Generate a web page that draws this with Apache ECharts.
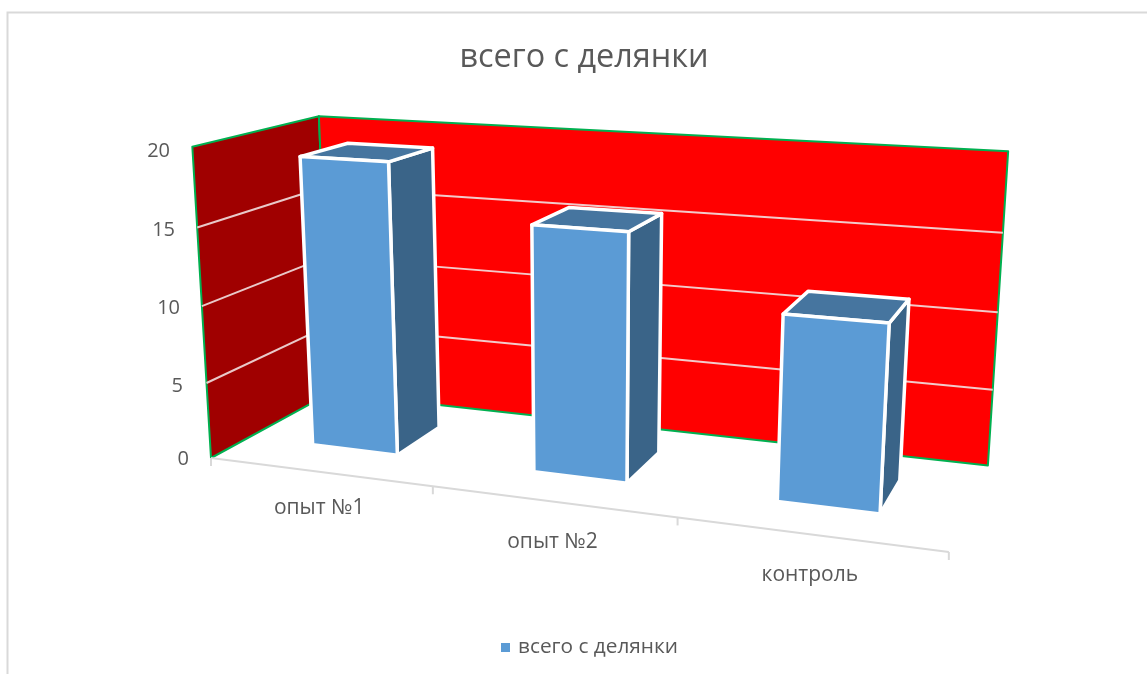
<!DOCTYPE html>
<html><head><meta charset="utf-8">
<style>html,body{margin:0;padding:0;background:#fff}#c{width:1147px;height:674px}</style>
<script src="https://cdn.jsdelivr.net/npm/echarts@6/dist/echarts.min.js"></script>
</head><body><div id="c"></div>
<script>
const categories = ['опыт №1', 'опыт №2', 'контроль'];
const seriesName = 'всего с делянки';
const values = [19, 15.7, 11.5];
const yTicks = [0, 5, 10, 15, 20];

// label nudges: the reference's staggered tick labels
const yNudge = {0:[2,22,0,0], 5:[12,28,0,0], 10:[11,31,0,0], 15:[12,36,0,0], 20:[8,41,0,0]};
const xNudge = [[40,30,0,0],[74,56,0,0],[107,34,0,0]];

// 3D -> screen perspective; s across categories, t up values, z into depth (all 0..1)
const O = [211,458], AX = [605,16.7], AT = [-27.8,-318.2], AZ = [162,-13.9];
const P = -0.14, Q = -0.0475, R = 0.13;
function project(s,t,z){
  const w = 1 + P*s + Q*t + R*z;
  return [(O[0]+AX[0]*s+AT[0]*t+AZ[0]*z)/w, (O[1]+AX[1]*s+AT[1]*t+AZ[1]*z)/w];
}
const ZF = 0.295, ZB = 0.695, BAR = 0.197, SHIFT = 0.0005;
const C_FRONT='#5b9bd5', C_SIDE='#3a6488', C_TOP='#46759f';
const poly=(pts,fill,stroke,lw)=>({type:'polygon',shape:{points:pts},style:{fill,stroke,lineWidth:lw,lineJoin:'round'}});
const line=(a,b,stroke,lw)=>({type:'line',shape:{x1:a[0],y1:a[1],x2:b[0],y2:b[1]},style:{stroke,lineWidth:lw}});

function renderBar(params, api){
  const r = params.coordSys;
  const base = api.coord([api.value(0), 0]);
  const top = api.coord([api.value(0), api.value(1)]);
  const sc = (base[0]-r.x)/r.width + SHIFT;
  const hw = api.size([1,0])[0]*BAR/r.width;
  const t = (base[1]-top[1])/r.height;
  const s0=sc-hw, s1=sc+hw;
  const fBL=project(s0,0,ZF), fBR=project(s1,0,ZF), fTL=project(s0,t,ZF), fTR=project(s1,t,ZF);
  const bBR=project(s1,0,ZB), bTR=project(s1,t,ZB), bTL=project(s0,t,ZB);
  return {type:'group',children:[
    poly([fBR,bBR,bTR,fTR],C_SIDE,'#fff',3.5),
    poly([fTL,fTR,bTR,bTL],C_TOP,'#fff',3.5),
    poly([fBL,fBR,fTR,fTL],C_FRONT,'#fff',3.5)
  ]};
}
function renderWalls(params, api){
  const r = params.coordSys;
  const kids=[];
  const G='#00b050';
  kids.push(poly([project(0,0,0),project(0,1,0),project(0,1,1),project(0,0,1)],'#a00000',G,2));
  kids.push(poly([project(0,0,1),project(0,1,1),project(1,1,1),project(1,0,1)],'#ff0000',G,2));
  yTicks.forEach(v=>{
    if(v===0||v===20) return;
    const t=(r.y+r.height-api.coord([0,v])[1])/r.height;
    kids.push(line(project(0,t,0),project(0,t,1),'#e9c9c9',2));
    kids.push(line(project(0,t,1),project(1,t,1),'#f3caca',2));
  });
  kids.push(line(project(0,0,0),project(1,0,0),'#d9d9d9',2));
  for(let i=0;i<=categories.length;i++){
    const p=project(i/categories.length,0,0);
    kids.push(line(p,[p[0],p[1]+8],'#d9d9d9',2));
  }
  return {type:'group',children:kids};
}
const yRich={}; yTicks.forEach(v=>{yRich['y'+v]={fontFamily:'Open Sans',fontSize:20,color:'#595959',padding:yNudge[v]};});
const xRich={}; categories.forEach((c,i)=>{xRich['x'+i]={fontFamily:'Open Sans',fontSize:21,color:'#595959',padding:xNudge[i]};});

const chart=echarts.init(document.getElementById('c'),null,{renderer:'canvas'});
chart.setOption({
  animation:false,
  backgroundColor:'#fff',
  title:{text:seriesName,left:579,textAlign:'center',top:37,textStyle:{fontFamily:'Open Sans',fontSize:32.4,fontWeight:'normal',color:'#595959'},},
  legend:{data:[seriesName],top:632,left:496,icon:'rect',itemWidth:9,itemHeight:9,itemGap:10,
    textStyle:{fontFamily:'Open Sans',fontSize:20.8,color:'#595959',padding:[0,0,0,3]}},
  grid:{left:211,top:147,width:739,height:311},
  xAxis:{type:'category',data:categories,axisLine:{show:false},axisTick:{show:false},
    axisLabel:{margin:0,verticalAlign:'top',interval:0,
      formatter:(v)=>'{x'+categories.indexOf(v)+'|'+v+'}',rich:xRich}},
  yAxis:{type:'value',min:0,max:20,interval:5,axisLine:{show:false},axisTick:{show:false},splitLine:{show:false},
    axisLabel:{margin:0,formatter:(v)=>'{y'+v+'|'+v+'}',rich:yRich}},
  graphic:[{type:'polyline',shape:{points:[[7.5,674],[7.5,12.5],[1147,12.5]]},style:{stroke:'#d9d9d9',lineWidth:2,fill:null}}],
  series:[
    {type:'custom',name:'стенки',silent:true,renderItem:renderWalls,data:[[0,20]],encode:{x:0,y:1},z:1},
    {type:'custom',name:seriesName,renderItem:renderBar,itemStyle:{color:C_FRONT},
      data:values.map((v,i)=>[i,v]),encode:{x:0,y:1},z:2}
  ]
});
</script></body></html>
